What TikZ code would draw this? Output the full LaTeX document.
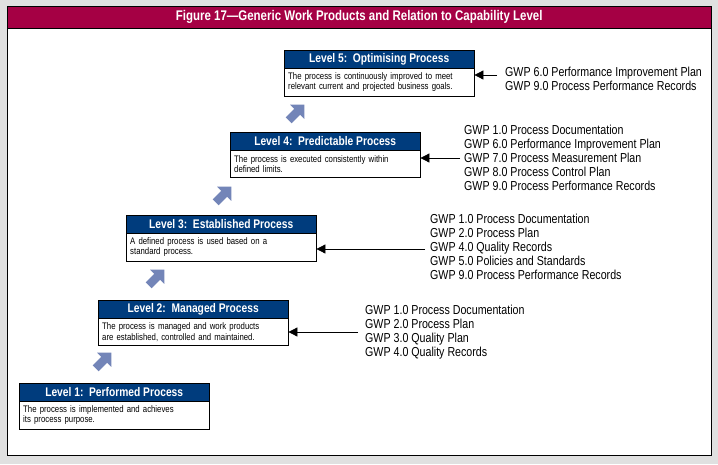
\documentclass[tikz,border=0pt]{standalone}
\usepackage{fontspec}
\setmainfont{Liberation Sans}[FakeStretch=0.82]
\usetikzlibrary{shapes.arrows,arrows.meta}
\definecolor{maroon}{HTML}{A50044}
\definecolor{navy}{HTML}{003C7D}
\definecolor{steel}{HTML}{7385B8}

\begin{document}
\begin{tikzpicture}[
  x=1pt, y=-1pt,
  Title/.style = {draw, fill=navy, text=white, font=\bfseries\fontsize{12.5}{13}\selectfont,
    minimum width=190pt, minimum height=18pt, anchor=north west, inner sep=0pt},
  Body/.style = {draw, fill=white, font=\fontsize{9.5}{10.5}\selectfont, align=left,
    text width=182pt, minimum width=190pt, minimum height=27pt, anchor=north west, inner sep=4pt},
  GwpList/.style = {anchor=west, align=left, font=\fontsize{13}{14}\selectfont, inner sep=0pt},
  StepUp/.style = {single arrow, fill=steel, rotate=45, minimum height=22pt,
    minimum width=20pt, single arrow head extend=3pt, inner sep=2pt},
  Feed/.style = {-{Triangle[length=9pt,width=9pt]}, thick}
  ]
  \useasboundingbox (0,0) rectangle (718,464);
  \fill[black!12] (0,0) rectangle (718,464);
  \draw[fill=white] (7,6) rectangle (711,455);
  \node[draw, fill=maroon, text=white, minimum width=704pt, minimum height=22pt,
    anchor=north west, inner sep=0pt, font=\bfseries\fontsize{14}{15}\selectfont]
    (head) at (7,6) {Figure 17---Generic Work Products and Relation to Capability Level};

  % levels
  \node[Title] (t1) at (19,383) {Level 1:\ \ Performed Process};
  \node[Body] (b1) at (t1.south west) {\raggedright The process is implemented and achieves\\its process purpose.};
  \node[Title] (t2) at (98,300) {Level 2:\ \ Managed Process};
  \node[Body] (b2) at (t2.south west) {\raggedright The process is managed and work products\\are established, controlled and maintained.};
  \node[Title] (t3) at (126,215) {Level 3:\ \ Established Process};
  \node[Body] (b3) at (t3.south west) {\raggedright A defined process is used based on a\\standard process.};
  \node[Title] (t4) at (230,132) {Level 4:\ \ Predictable Process};
  \node[Body] (b4) at (t4.south west) {\raggedright The process is executed consistently within\\defined limits.};
  \node[Title] (t5) at (284,50) {Level 5:\ \ Optimising Process};
  \node[Body] (b5) at (t5.south west) {\raggedright The process is continuously improved to meet\\relevant current and projected business goals.};

  % steps
  \node[StepUp] (s1) at (102,362) {};
  \node[StepUp] (s2) at (155,279) {};
  \node[StepUp] (s3) at (222,196) {};
  \node[StepUp] (s4) at (295,114) {};

  % generic work products
  \node[GwpList] (g5) at (505,79) {GWP 6.0 Performance Improvement Plan\\GWP 9.0 Process Performance Records};
  \node[GwpList] (g4) at (464,158) {GWP 1.0 Process Documentation\\GWP 6.0 Performance Improvement Plan\\GWP 7.0 Process Measurement Plan\\GWP 8.0 Process Control Plan\\GWP 9.0 Process Performance Records};
  \node[GwpList] (g3) at (430,247) {GWP 1.0 Process Documentation\\GWP 2.0 Process Plan\\GWP 4.0 Quality Records\\GWP 5.0 Policies and Standards\\GWP 9.0 Process Performance Records};
  \node[GwpList] (g2) at (365,332) {GWP 1.0 Process Documentation\\GWP 2.0 Process Plan\\GWP 3.0 Quality Plan\\GWP 4.0 Quality Records};

  \draw[Feed] (g5.west) ++(-8,-4) coordinate (c5) -- (c5 -| b5.east) ;
  \draw[Feed] (g4.west) ++(-4,0) coordinate (c4) -- (c4 -| b4.east);
  \draw[Feed] (g3.west) ++(-5,2) coordinate (c3) -- (c3 -| b3.east);
  \draw[Feed] (g2.west) ++(-7,0) coordinate (c2) -- (c2 -| b2.east);
\end{tikzpicture}
\end{document}
